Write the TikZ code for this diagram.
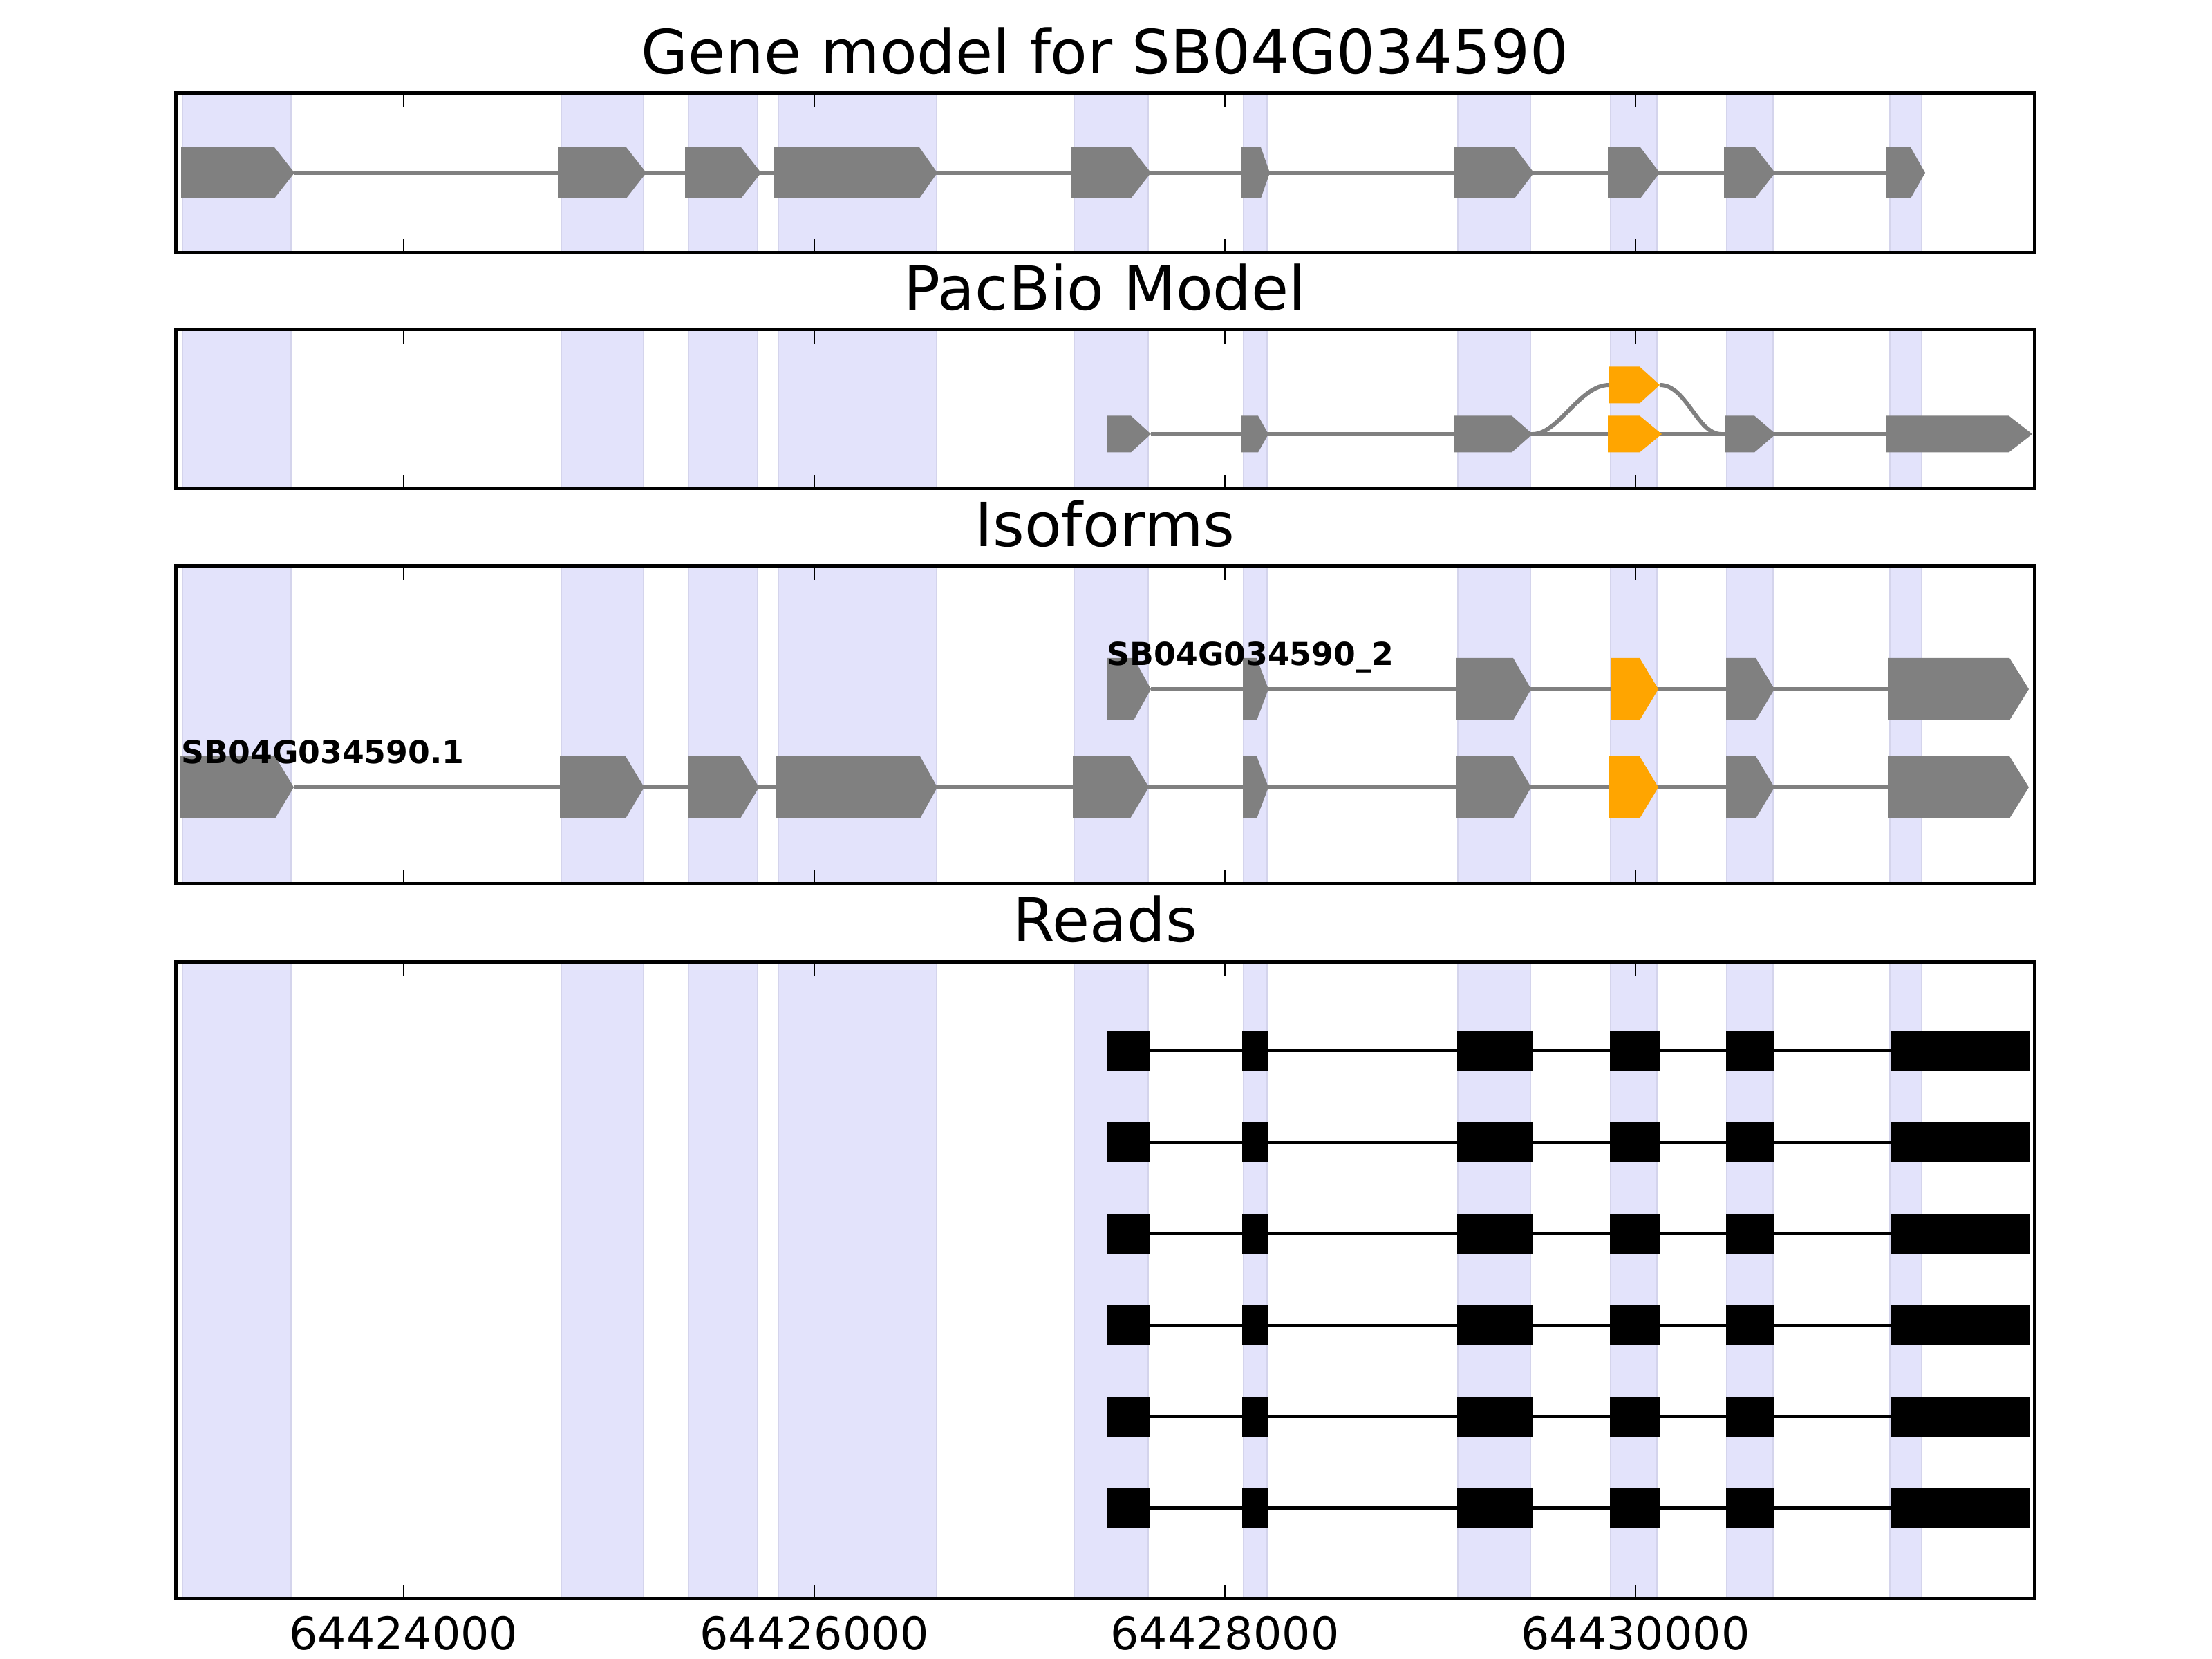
\documentclass[tikz,border=0pt]{standalone}
\usepackage{fontspec}
\setmainfont{DejaVu Sans}

\definecolor{bandfill}{RGB}{227,227,251}
\definecolor{bandline}{RGB}{212,212,236}
\definecolor{exongray}{RGB}{128,128,128}
\definecolor{altorange}{RGB}{255,165,0}

% exon with arrow point: x start, x flat end, x tip, y centre, half height, colour
\newcommand{\exon}[6]{%
  \fill[#6] (#1,#4-#5) -- (#2,#4-#5) -- (#3,#4) -- (#2,#4+#5) -- (#1,#4+#5) -- cycle;}

% shaded exon bands of one panel: y bottom, y top
\newcommand{\bands}[2]{%
  \foreach \xa/\xb in {2.64/4.21,8.12/9.31,9.96/10.96,11.26/13.55,15.54/16.61,17.99/18.33,21.09/22.14,23.30/23.97,24.98/25.65,27.34/27.80}
    \filldraw[band] (\xa,#1) rectangle (\xb,#2);}

% panel frame with inward ticks: y bottom, y top
\newcommand{\panelframe}[2]{%
  \draw[frame] (2.54,#1) rectangle (29.43,#2);
  \foreach \t in {5.84,11.78,17.72,23.66} {
    \draw[tick] (\t,#1) -- ++(0,0.2);
    \draw[tick] (\t,#2) -- ++(0,-0.2);
  }}

% one read: y centre
\newcommand{\readrow}[1]{%
  \draw[readline] (16.63,#1) -- (27.35,#1);
  \foreach \xa/\xb in {16.01/16.63,17.97/18.35,21.08/22.17,23.29/24.01,24.97/25.67,27.35/29.36}
    \fill (\xa,#1-0.29) rectangle (\xb,#1+0.29);}

\tikzset{
  band/.style={fill=bandfill, draw=bandline, line width=0.4pt},
  frame/.style={draw=black, line width=0.05cm},
  tick/.style={black, line width=0.6pt},
  intron/.style={draw=exongray, line width=0.06cm},
  readline/.style={draw=black, line width=0.05cm},
  paneltitle/.style={anchor=base, inner sep=0pt, font=\fontsize{25}{30}\selectfont},
  ticklabel/.style={anchor=base, inner sep=0pt, font=\fontsize{18.5}{22}\selectfont},
  isolabel/.style={anchor=base west, inner sep=0pt, font=\bfseries\fontsize{13}{16}\selectfont}
}

\begin{document}
\begin{tikzpicture}
  \useasboundingbox (0,0) rectangle (32,24);

  % panel backgrounds
  \bands{20.34}{22.65}
  \bands{16.93}{19.23}
  \bands{11.21}{15.81}
  \bands{0.87}{10.08}

  % gene model
  \draw[intron] (4.26,21.50) -- (27.29,21.50);
  \exon{2.62}{3.97}{4.26}{21.50}{0.37}{exongray}
  \exon{8.07}{9.06}{9.35}{21.50}{0.37}{exongray}
  \exon{9.91}{10.72}{11.01}{21.50}{0.37}{exongray}
  \exon{11.20}{13.30}{13.56}{21.50}{0.37}{exongray}
  \exon{15.50}{16.36}{16.65}{21.50}{0.37}{exongray}
  \exon{17.95}{18.24}{18.37}{21.50}{0.37}{exongray}
  \exon{21.03}{21.91}{22.19}{21.50}{0.37}{exongray}
  \exon{23.26}{23.73}{24.01}{21.50}{0.37}{exongray}
  \exon{24.94}{25.39}{25.68}{21.50}{0.37}{exongray}
  \exon{27.29}{27.64}{27.85}{21.50}{0.37}{exongray}

  % pacbio model
  \draw[intron] (16.65,17.72) -- (27.29,17.72);
  \draw[intron] (22.17,17.72) .. controls (22.55,17.72) and (22.85,18.43) .. (23.28,18.43);
  \draw[intron] (24.01,18.43) .. controls (24.40,18.43) and (24.55,17.72) .. (24.90,17.72);
  \exon{16.02}{16.36}{16.65}{17.72}{0.265}{exongray}
  \exon{17.95}{18.20}{18.35}{17.72}{0.265}{exongray}
  \exon{21.03}{21.87}{22.17}{17.72}{0.265}{exongray}
  \exon{23.26}{23.72}{24.04}{17.72}{0.265}{altorange}
  \exon{23.28}{23.72}{24.01}{18.43}{0.265}{altorange}
  \exon{24.95}{25.38}{25.69}{17.72}{0.265}{exongray}
  \exon{27.29}{29.06}{29.40}{17.72}{0.265}{exongray}

  % isoforms
  \draw[intron] (16.65,14.03) -- (27.32,14.03);
  \exon{16.01}{16.40}{16.65}{14.03}{0.45}{exongray}
  \exon{17.98}{18.18}{18.35}{14.03}{0.45}{exongray}
  \exon{21.06}{21.89}{22.15}{14.03}{0.45}{exongray}
  \exon{23.30}{23.72}{23.99}{14.03}{0.45}{altorange}
  \exon{24.97}{25.40}{25.67}{14.03}{0.45}{exongray}
  \exon{27.32}{29.07}{29.35}{14.03}{0.45}{exongray}

  \draw[intron] (4.25,12.61) -- (27.32,12.61);
  \exon{2.61}{3.98}{4.25}{12.61}{0.45}{exongray}
  \exon{8.10}{9.05}{9.32}{12.61}{0.45}{exongray}
  \exon{9.95}{10.71}{10.98}{12.61}{0.45}{exongray}
  \exon{11.23}{13.31}{13.56}{12.61}{0.45}{exongray}
  \exon{15.52}{16.35}{16.62}{12.61}{0.45}{exongray}
  \exon{17.98}{18.18}{18.35}{12.61}{0.45}{exongray}
  \exon{21.06}{21.89}{22.15}{12.61}{0.45}{exongray}
  \exon{23.28}{23.72}{23.99}{12.61}{0.45}{altorange}
  \exon{24.97}{25.40}{25.67}{12.61}{0.45}{exongray}
  \exon{27.32}{29.07}{29.35}{12.61}{0.45}{exongray}

  \node[isolabel] (isoone) at (2.62,12.95) {SB04G034590.1};
  \node[isolabel] (isotwo) at (16.01,14.37) {SB04G034590\_2};

  % reads
  \readrow{8.80}
  \readrow{7.476}
  \readrow{6.152}
  \readrow{4.828}
  \readrow{3.504}
  \readrow{2.18}

  % frames and ticks
  \panelframe{20.34}{22.65}
  \panelframe{16.93}{19.23}
  \panelframe{11.21}{15.81}
  \panelframe{0.87}{10.08}

  \node[paneltitle] (genetitle) at (15.985,22.93) {Gene model for SB04G034590};
  \node[paneltitle] (pacbiotitle) at (15.985,19.51) {PacBio Model};
  \node[paneltitle] (isotitle) at (15.985,16.09) {Isoforms};
  \node[paneltitle] (readstitle) at (15.985,10.37) {Reads};

  \node[ticklabel] (tick24) at (5.84,0.13) {64424000};
  \node[ticklabel] (tick26) at (11.78,0.13) {64426000};
  \node[ticklabel] (tick28) at (17.72,0.13) {64428000};
  \node[ticklabel] (tick30) at (23.66,0.13) {64430000};

\end{tikzpicture}
\end{document}
